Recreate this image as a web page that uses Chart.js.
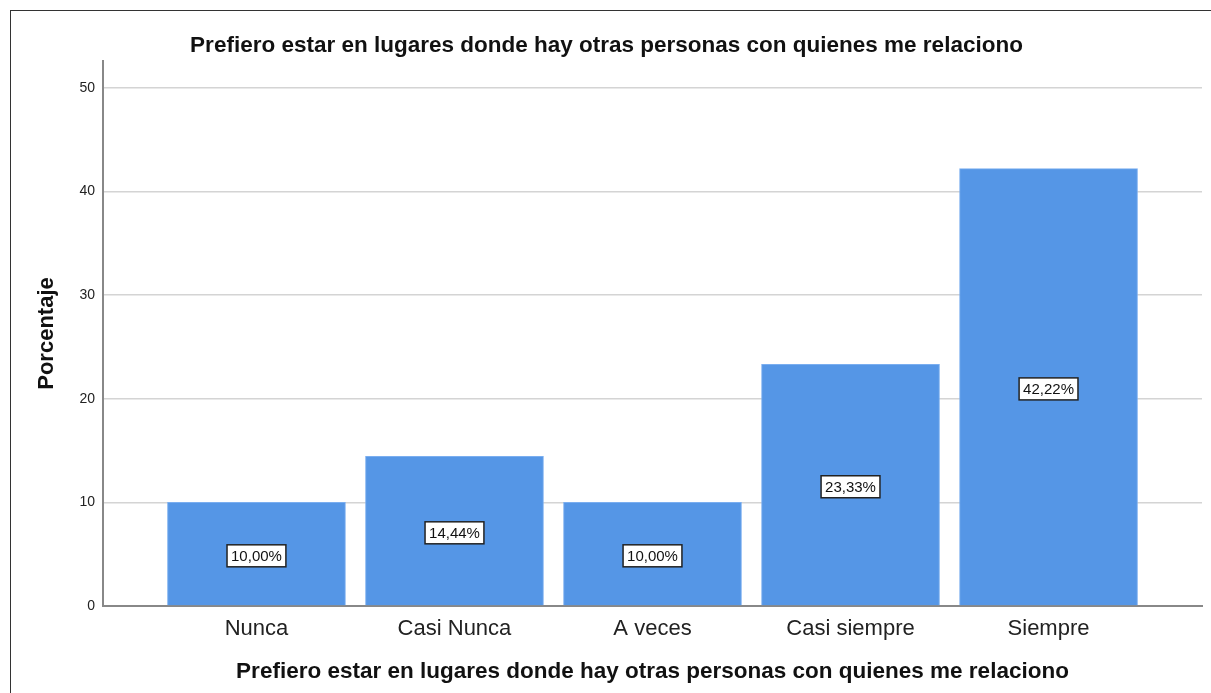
<!DOCTYPE html>
<html>
<head>
<meta charset="utf-8">
<script src="https://cdn.jsdelivr.net/npm/chart.js@4"></script>
<style>
  body { margin: 0; background: #fff; overflow: hidden; }
  .frame { position: absolute; left: 10px; top: 10px; width: 1260px; height: 720px; border: 1px solid #333; }
  .box { position: absolute; left: 0; top: 0; width: 1200px; height: 682px; }
</style>
</head>
<body>
<div class="frame"><div class="box"><canvas id="chart"></canvas></div></div>
<script>
const categories = ["Nunca", "Casi Nunca", "A veces", "Casi siempre", "Siempre"];
const porcentajes = [10.00, 14.44, 10.00, 23.33, 42.22];
const yTicks = [0, 10, 20, 30, 40, 50];
const titulo = "Prefiero estar en lugares donde hay otras personas con quienes me relaciono";

const FONT = "'Liberation Sans', Arial, sans-serif";

// etiquetas blancas con borde en el centro de cada barra
const boxLabels = {
  id: "boxLabels",
  afterDatasetsDraw(chart) {
    const ctx = chart.ctx;
    const meta = chart.getDatasetMeta(0);
    ctx.save();
    ctx.font = "15px " + FONT;
    ctx.textAlign = "center";
    ctx.textBaseline = "middle";
    meta.data.forEach((bar, i) => {
      const txt = porcentajes[i].toFixed(2).replace(".", ",") + "%";
      const w = ctx.measureText(txt).width + 8;
      const h = 22;
      const cx = bar.x;
      const cy = (bar.y + bar.base) / 2 + 2;
      ctx.fillStyle = "#fff";
      ctx.fillRect(cx - w / 2, cy - h / 2, w, h);
      ctx.strokeStyle = "#222";
      ctx.lineWidth = 1.5;
      ctx.strokeRect(cx - w / 2, cy - h / 2, w, h);
      ctx.fillStyle = "#111";
      ctx.fillText(txt, cx, cy + 1);
    });
    ctx.restore();
  }
};

new Chart(document.getElementById("chart"), {
  type: "bar",
  data: {
    datasets: [{
      data: porcentajes.map((v, i) => ({ x: i, y: v })),
      backgroundColor: "#5596e6",
      borderColor: "#7aaef0",
      borderWidth: 1,
      barThickness: 178
    }]
  },
  plugins: [boxLabels],
  options: {
    responsive: true,
    maintainAspectRatio: false,
    animation: false,
    layout: { padding: { left: 0, right: 9, top: 0, bottom: 0 } },
    plugins: {
      legend: { display: false },
      tooltip: { enabled: false },
      title: {
        display: true,
        text: titulo,
        color: "#111",
        font: { family: FONT, size: 22.5, weight: "bold" },
        padding: { top: 21, bottom: 2 }
      }
    },
    scales: {
      x: {
        type: "linear",
        offset: false,
        bounds: "data",
        min: -0.775,
        max: 4.775,
        afterBuildTicks: s => { s.ticks = categories.map((c, i) => ({ value: i })); },
        afterFit: s => { s.height = 87; },
        grid: { display: false, drawTicks: false },
        border: { display: true, color: "#888", width: 2 },
        ticks: {
          callback: v => categories[v],
          color: "#222",
          padding: 10,
          font: { family: FONT, size: 22 }
        },
        title: {
          display: true,
          text: titulo,
          color: "#111",
          font: { family: FONT, size: 22.5, weight: "bold" },
          padding: 8
        }
      },
      y: {
        bounds: "data",
        min: 0,
        max: 52.6,
        afterBuildTicks: s => { s.ticks = yTicks.map(v => ({ value: v })); },
        afterFit: s => { s.width = 92; },
        grid: { color: "#d4d4d4", lineWidth: 1.5, drawTicks: false },
        border: { display: true, color: "#888", width: 2 },
        ticks: {
          color: "#222",
          padding: 8,
          font: { family: FONT, size: 14 }
        },
        title: {
          display: true,
          text: "Porcentaje",
          color: "#111",
          font: { family: FONT, size: 22, weight: "bold" },
          padding: 23
        }
      }
    }
  }
});
</script>
</body>
</html>
